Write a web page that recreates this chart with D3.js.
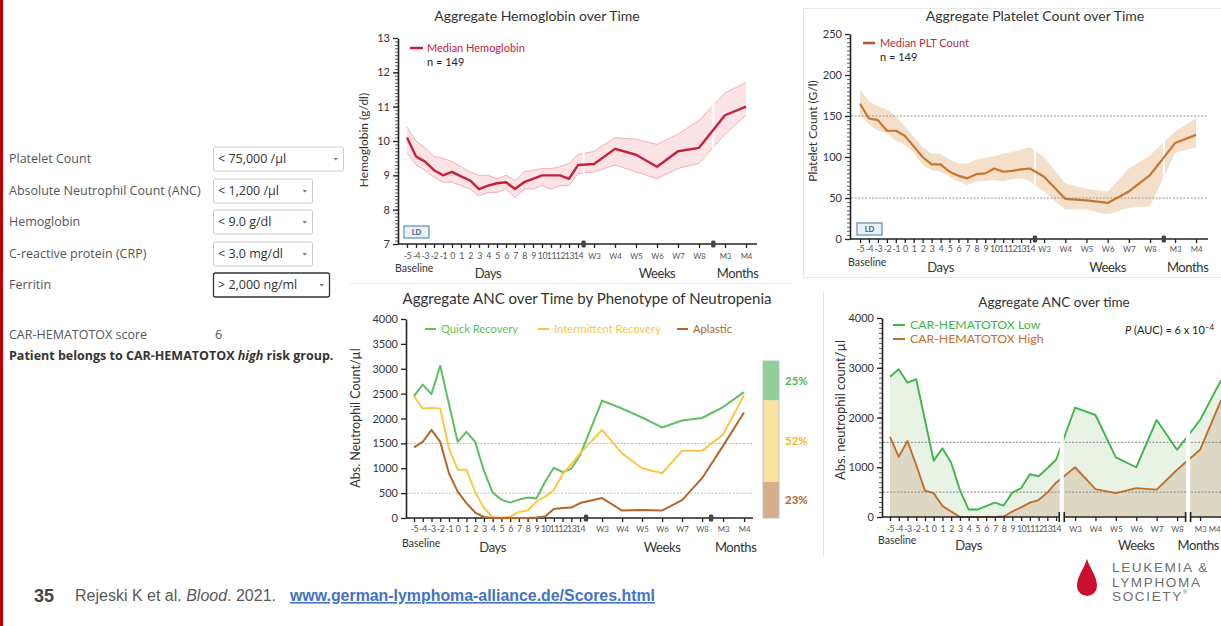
<!DOCTYPE html>
<html>
<head>
<meta charset="utf-8">
<script src="https://d3js.org/d3.v7.min.js"></script>
<style>
body { margin: 0; background: #fff; overflow: hidden; }
svg { display: block; }
</style>
</head>
<body>
<div id="chart"></div>
<script>
// x categories shared by all four panels
var xLabels = ["-5","-4","-3","-2","-1","0","1","2","3","4","5","6","7","8","9","10","11","12","13","14",
	"W3","W4","W5","W6","W7","W8","M3","M4"];

// hemoglobin (g/dl)
var hbMedian = [10.1, 9.55, 9.4, 9.15, 9.0, 9.1, 8.97, 8.85, 8.6, 8.7, 8.77, 8.8, 8.6, 8.8, 8.9, 9.0, 9.0, 9.0, 8.9, 9.3,
	9.33, 9.77, 9.6, 9.25, 9.7, 9.8, 10.75, 11.0];
var hbUpper = [10.4, 10.0, 9.8, 9.55, 9.5, 9.4, 9.25, 9.1, 9.0, 9.0, 8.9, 9.0, 8.85, 9.1, 9.15, 9.2, 9.2, 9.25, 9.35, 9.6,
	9.7, 10.1, 10.05, 9.9, 10.2, 10.6, 11.4, 11.7];
var hbLower = [9.65, 9.3, 9.15, 8.95, 8.8, 8.8, 8.7, 8.6, 8.4, 8.5, 8.5, 8.6, 8.35, 8.6, 8.6, 8.7, 8.6, 8.7, 8.7, 9.05,
	9.1, 9.3, 9.1, 8.9, 9.2, 9.35, 10.2, 10.75];

// platelet count (G/l)
var pltMedian = [165, 147, 145, 132, 132, 126, 113, 100, 91, 91, 82, 77, 74, 79, 80, 86, 82, 83, 85, 86,
	76, 49, 47, 44, 58, 78, 117, 127];
var pltUpper = [182, 168, 162, 158, 150, 137, 125, 112, 104, 104, 97, 92, 92, 97, 99, 101, 104, 106, 109, 112,
	100, 68, 61, 58, 86, 102, 131, 147];
var pltLower = [151, 140, 132, 129, 120, 115, 106, 90, 84, 82, 76, 70, 66, 70, 71, 72, 70, 73, 74, 70,
	58, 36, 36, 30, 38, 40, 105, 112];
var pltRefs = [150, 50];

// ANC by phenotype (/µl)
var phenoNames = ["Quick Recovery", "Intermittent Recovery", "Aplastic"];
var ancQuick = [2450, 2680, 2490, 3060, 2290, 1530, 1730, 1530, 950, 510, 370, 310, 370, 410, 390, 730, 1010, 920, 990, 1260,
	2360, 2200, 2020, 1820, 1960, 2010, 2230, 2530];
var ancIntermittent = [2450, 2200, 2210, 2200, 1400, 970, 970, 520, 200, 20, 0, 30, 120, 150, 330, 430, 560, 880, 1080, 1300,
	1770, 1300, 1000, 900, 1350, 1350, 1680, 2470];
var ancAplastic = [1420, 1530, 1770, 1530, 900, 530, 300, 110, 20, 0, 0, 0, 0, 0, 10, 30, 180, 200, 210, 300,
	400, 150, 160, 150, 360, 800, 1450, 2120];
var phenoShares = [25, 52, 23];
var ancRefs = [1500, 500];

// ANC by CAR-HEMATOTOX group (/µl)
var riskNames = ["CAR-HEMATOTOX Low", "CAR-HEMATOTOX High"];
var toxLow = [2820, 2970, 2700, 2770, 1950, 1130, 1380, 1090, 540, 150, 150, 220, 290, 230, 490, 580, 860, 820, 980, 1150,
	2200, 2050, 1200, 1000, 1950, 1350, 1950, 2750];
var toxHigh = [1610, 1210, 1530, 1045, 530, 480, 220, 110, 0, 0, 0, 0, 0, 10, 110, 195, 290, 340, 490, 690,
	1000, 560, 480, 580, 550, 950, 1350, 2350];

// score calculator form
var formLabels = ["Platelet Count", "Absolute Neutrophil Count (ANC)", "Hemoglobin", "C-reactive protein (CRP)", "Ferritin"];
var formValues = ["< 75,000 /µl", "< 1,200 /µl", "< 9.0 g/dl", "< 3.0 mg/dl", "> 2,000 ng/ml"];
var activeField = 4;
var scoreValue = 6;

var FONT = "Lato, 'Noto Sans', sans-serif";
var WIDTH = 1221, HEIGHT = 626;
var svg;

// layouts (pixels)
var hbLayout = { x0: 407, day: 9.0, gapW: 16, week: 21, gapM: 26, month: 21,
	left: 398, right: 757, top: 38, bottom: 244, breaks: [19.35, 25.55] };
var pltLayout = { x0: 860, day: 8.95, gapW: 14, week: 21.2, gapM: 25, month: 21,
	left: 850, right: 1208, top: 34, bottom: 239, breaks: [19.35, 25.55] };
var ancLayout = { x0: 414, day: 8.74, gapW: 22, week: 20, gapM: 21, month: 21,
	left: 406, right: 753, top: 319, bottom: 518, breaks: [19.27, 25.43] };
var toxLayout = { x0: 890, day: 8.74, gapW: 19, week: 20.4, gapM: 23, month: 21,
	left: 882, right: 1230, top: 318, bottom: 517, breaks: [19.3, 25.48] };
var formLayout = { rowY: [159, 191, 222, 254, 285], boxW: [130, 99, 99, 99, 116] };

function onLoad() {
	svgContainer();
	drawForm();
	drawHemoglobin();
	drawPlatelets();
	drawPhenotype();
	drawHematotox();
	drawFooter();
}

function svgContainer() {
	svg = d3.select("#chart").append("svg")
		.attr("width", WIDTH)
		.attr("height", HEIGHT);
	svg.append("rect").attr("width", WIDTH).attr("height", HEIGHT).attr("fill", "#fff");
	svg.append("rect").attr("x", 0).attr("y", 0).attr("width", 3).attr("height", HEIGHT).attr("fill", "#c00000");

	// faint panel frames of the pasted figures
	svg.append("line").attr("x1", 350).attr("x2", 792).attr("y1", 283.5).attr("y2", 283.5).attr("stroke", "#ececec");
	svg.append("rect").attr("x", 803.5).attr("y", 8.5).attr("width", 425).attr("height", 269)
		.attr("fill", "none").attr("stroke", "#e8e8e8");
	svg.append("line").attr("x1", 823.5).attr("x2", 823.5).attr("y1", 292).attr("y2", 556).attr("stroke", "#e2e2e2");
}

function makeX(p) {
	var d14 = p.x0 + 19 * p.day,
		w3 = d14 + p.gapW,
		w8 = w3 + 5 * p.week,
		m3 = w8 + p.gapM;
	return d3.scaleLinear().domain([0, 19, 20, 25, 26, 27]).range([p.x0, d14, w3, w8, m3, m3 + p.month]);
}

function drawXAxis(p, x, breakStyle, lab) {
	var g = svg.append("g")
		.attr("transform", "translate(0," + p.bottom + ")")
		.call(d3.axisBottom(x)
			.tickValues(d3.range(xLabels.length))
			.tickFormat(function(i) { return xLabels[i]; })
			.tickSize(4)
			.tickPadding(3));
	g.select(".domain").remove();
	g.attr("font-family", FONT).attr("color", "#333");
	g.selectAll(".tick line").attr("stroke", "#222").attr("stroke-width", 1.3);
	g.selectAll(".tick text")
		.attr("fill", "#555")
		.attr("font-size", function(i) { return i < 20 ? 8.8 : 7.8; })
		.attr("letter-spacing", function(i) { return i < 20 ? -0.4 : 0; })
		.attr("y", lab.tick)
		.attr("dy", "0.35em")
		// keep a label at the slide edge inside the picture
		.attr("text-anchor", function(i) { return x(i) + 5 > WIDTH ? "end" : "middle"; })
		.attr("x", function(i) { return x(i) + 5 > WIDTH ? WIDTH - 1 - x(i) : 0; });
	g.append("line").attr("x1", p.left).attr("x2", p.right)
		.attr("stroke", "#222").attr("stroke-width", 1.6);

	p.breaks.forEach(function(b) {
		var bx = x(b);
		if (breakStyle === "block") {
			g.append("rect").attr("x", bx - 2.2).attr("y", -3.5).attr("width", 4.4).attr("height", 7)
				.attr("rx", 1.5).attr("fill", "#444");
		} else {
			g.append("rect").attr("x", bx - 2).attr("y", -2).attr("width", 4).attr("height", 4).attr("fill", "#fff");
			g.append("line").attr("x1", bx - 2.5).attr("x2", bx - 2.5).attr("y1", -5).attr("y2", 5)
				.attr("stroke", "#222").attr("stroke-width", 1.6);
			g.append("line").attr("x1", bx + 2.5).attr("x2", bx + 2.5).attr("y1", -5).attr("y2", 5)
				.attr("stroke", "#222").attr("stroke-width", 1.6);
		}
	});

	g.append("text").attr("x", x(0) - 12).attr("y", lab.base).attr("dy", "0.35em")
		.attr("fill", "#333").attr("font-size", 10.5).attr("text-anchor", "start").text("Baseline");
	var groups = [["Days", 9], ["Weeks", 23], ["Months", 26.6]];
	groups.forEach(function(gr) {
		var t = g.append("text").attr("x", x(gr[1])).attr("y", lab.group).attr("dy", "0.35em")
			.attr("fill", "#333").attr("font-size", 13).attr("letter-spacing", -0.4)
			.attr("text-anchor", "middle").text(gr[0]);
		if (x(gr[1]) + 22 > WIDTH) t.attr("x", WIDTH - 2).attr("text-anchor", "end");
	});
}

function drawYAxis(p, y, major, minor) {
	if (minor) {
		var m = svg.append("g")
			.attr("transform", "translate(" + p.left + ",0)")
			.call(d3.axisLeft(y).tickValues(minor).tickSize(3).tickFormat(""));
		m.select(".domain").remove();
		m.selectAll(".tick line").attr("stroke", "#333").attr("stroke-width", 0.8);
	}
	var g = svg.append("g")
		.attr("transform", "translate(" + p.left + ",0)")
		.call(d3.axisLeft(y).tickValues(major).tickSize(5).tickSizeOuter(0).tickPadding(3).tickFormat(d3.format("d")));
	g.attr("font-family", FONT).attr("font-size", 11);
	g.select(".domain").attr("stroke", "#222").attr("stroke-width", 1.6);
	g.selectAll(".tick line").attr("stroke", "#222").attr("stroke-width", 1.3);
	g.selectAll(".tick text").attr("fill", "#333");
}

function drawYLabel(cx, cy, label, size) {
	svg.append("text")
		.attr("transform", "translate(" + cx + "," + cy + ") rotate(-90)")
		.attr("text-anchor", "middle")
		.attr("dy", "0.35em")
		.attr("font-family", FONT)
		.attr("font-size", size)
		.attr("fill", "#333")
		.text(label);
}

function drawTitle(cx, y, label, size) {
	svg.append("text").attr("x", cx).attr("y", y)
		.attr("text-anchor", "middle")
		.attr("font-family", FONT)
		.attr("font-size", size)
		.attr("fill", "#333")
		.text(label);
}

function drawGaps(p, x, width) {
	p.breaks.forEach(function(b) {
		svg.append("rect").attr("x", x(b) - width / 2).attr("y", p.top)
			.attr("width", width).attr("height", p.bottom - p.top - 1)
			.attr("fill", "#fff");
	});
}

function drawRefLines(p, y, values, color, width) {
	values.forEach(function(v) {
		svg.append("line").attr("x1", p.left + 1).attr("x2", p.right)
			.attr("y1", y(v)).attr("y2", y(v))
			.attr("stroke", color).attr("stroke-width", width)
			.attr("stroke-dasharray", "2,1.5");
	});
}

function drawLD(px, py) {
	svg.append("rect").attr("x", px).attr("y", py).attr("width", 25).attr("height", 12)
		.attr("fill", "#eaf2f8").attr("stroke", "#5a8db5").attr("stroke-width", 1.2);
	svg.append("text").attr("x", px + 12.5).attr("y", py + 6).attr("dy", "0.35em")
		.attr("text-anchor", "middle").attr("font-family", FONT).attr("font-weight", "bold")
		.attr("font-size", 7.5).attr("fill", "#2d5f8a").text("LD");
}

function seriesLine(x, y) {
	return d3.line().x(function(d, i) { return x(i); }).y(function(d) { return y(d); });
}

function drawHemoglobin() {
	var p = hbLayout, x = makeX(p);
	var y = d3.scaleLinear().domain([7, 13]).range([p.bottom, p.top]);
	var idx = d3.range(xLabels.length);

	drawTitle(537, 21, "Aggregate Hemoglobin over Time", 14);

	svg.append("path").datum(idx)
		.attr("d", d3.area().x(function(i) { return x(i); })
			.y0(function(i) { return y(hbLower[i]); })
			.y1(function(i) { return y(hbUpper[i]); }))
		.attr("fill", "#fbe3e6");
	svg.append("path").datum(hbUpper).attr("d", seriesLine(x, y)).attr("fill", "none").attr("stroke", "#f5b0b8").attr("stroke-width", 1);
	svg.append("path").datum(hbLower).attr("d", seriesLine(x, y)).attr("fill", "none").attr("stroke", "#f5b0b8").attr("stroke-width", 1);
	drawGaps(p, x, 2);

	drawYAxis(p, y, d3.range(7, 14), d3.range(70, 131).map(function(v) { return v / 10; }));
	drawXAxis(p, x, "block", { tick: 12, base: 24, group: 29 });
	drawYLabel(364, 140, "Hemoglobin (g/dl)", 12);

	svg.append("path").datum(hbMedian).attr("d", seriesLine(x, y))
		.attr("fill", "none").attr("stroke", "#c8203a").attr("stroke-width", 2.4).attr("stroke-linejoin", "round");

	svg.append("line").attr("x1", 410).attr("x2", 423).attr("y1", 48).attr("y2", 48)
		.attr("stroke", "#c8203a").attr("stroke-width", 2.5);
	svg.append("text").attr("x", 427).attr("y", 48).attr("dy", "0.35em").attr("font-family", FONT)
		.attr("font-size", 11).attr("fill", "#c8203a").text("Median Hemoglobin");
	svg.append("text").attr("x", 427).attr("y", 62).attr("dy", "0.35em").attr("font-family", FONT)
		.attr("font-size", 11).attr("fill", "#222").text("n = 149");
	drawLD(404, 226);
}

function drawPlatelets() {
	var p = pltLayout, x = makeX(p);
	var y = d3.scaleLinear().domain([0, 250]).range([p.bottom, p.top]);
	var idx = d3.range(xLabels.length);

	drawTitle(1035, 21, "Aggregate Platelet Count over Time", 14);

	svg.append("path").datum(idx)
		.attr("d", d3.area().x(function(i) { return x(i); })
			.y0(function(i) { return y(pltLower[i]); })
			.y1(function(i) { return y(pltUpper[i]); }))
		.attr("fill", "#f3dfca");
	drawGaps(p, x, 2);
	drawRefLines(p, y, pltRefs, "#999", 1);

	drawYAxis(p, y, d3.range(0, 251, 50), d3.range(0, 251, 5));
	drawXAxis(p, x, "block", { tick: 10, base: 23, group: 28 });
	drawYLabel(813, 131, "Platelet Count (G/l)", 12);

	svg.append("path").datum(pltMedian).attr("d", seriesLine(x, y))
		.attr("fill", "none").attr("stroke", "#c8762c").attr("stroke-width", 2.2).attr("stroke-linejoin", "round");

	svg.append("line").attr("x1", 863).attr("x2", 875).attr("y1", 43).attr("y2", 43)
		.attr("stroke", "#b5562e").attr("stroke-width", 2.5);
	svg.append("text").attr("x", 880).attr("y", 43).attr("dy", "0.35em").attr("font-family", FONT)
		.attr("font-size", 11).attr("fill", "#a83242").text("Median PLT Count");
	svg.append("text").attr("x", 880).attr("y", 57).attr("dy", "0.35em").attr("font-family", FONT)
		.attr("font-size", 11).attr("fill", "#222").text("n = 149");
	drawLD(857, 223);
}

function drawPhenotype() {
	var p = ancLayout, x = makeX(p);
	var y = d3.scaleLinear().domain([0, 4000]).range([p.bottom, p.top]);
	var colors = ["#5dbf5f", "#fcc744", "#b5652a"];
	var series = [ancQuick, ancIntermittent, ancAplastic];

	drawTitle(587, 304, "Aggregate ANC over Time by Phenotype of Neutropenia", 15);
	drawRefLines(p, y, ancRefs, "#bbb", 1);
	drawYAxis(p, y, d3.range(0, 4001, 500), null);
	drawXAxis(p, x, "block", { tick: 11, base: 25, group: 29 });
	drawYLabel(356, 418, "Abs. Neutrophil Count/µl", 12.5);

	series.forEach(function(s, k) {
		svg.append("path").datum(s).attr("d", seriesLine(x, y))
			.attr("fill", "none").attr("stroke", colors[k]).attr("stroke-width", 2).attr("stroke-linejoin", "round");
	});

	var legX = [425, 538, 677];
	phenoNames.forEach(function(n, k) {
		svg.append("line").attr("x1", legX[k]).attr("x2", legX[k] + 11).attr("y1", 329).attr("y2", 329)
			.attr("stroke", colors[k]).attr("stroke-width", 2);
		svg.append("text").attr("x", legX[k] + 16).attr("y", 329).attr("dy", "0.35em")
			.attr("font-family", FONT).attr("font-size", 11.2).attr("fill", colors[k]).text(n);
	});

	// stacked share bar, bottom = aplastic
	var s = d3.scaleLinear().domain([0, 100]).range([p.bottom, 361]);
	var fills = ["#93cf96", "#f9e3a0", "#d8ae8a"];
	var labCol = ["#4cb84c", "#f5b52a", "#b5652a"];
	var cum = 0;
	for (var k = phenoShares.length - 1; k >= 0; k--) {
		var lo = cum, hi = cum + phenoShares[k];
		svg.append("rect").attr("x", 763).attr("y", s(hi)).attr("width", 16).attr("height", s(lo) - s(hi))
			.attr("fill", fills[k]);
		svg.append("text").attr("x", 785).attr("y", s((lo + hi) / 2)).attr("dy", "0.35em")
			.attr("font-family", FONT).attr("font-weight", "bold").attr("font-size", 11.5)
			.attr("fill", labCol[k]).text(phenoShares[k] + "%");
		cum = hi;
	}
	svg.append("rect").attr("x", 763).attr("y", s(100)).attr("width", 16).attr("height", s(0) - s(100))
		.attr("fill", "none").attr("stroke", "#b3c3cf").attr("stroke-width", 1);
}

function drawHematotox() {
	var p = toxLayout, x = makeX(p);
	var y = d3.scaleLinear().domain([0, 4000]).range([p.bottom, p.top]);
	var colors = ["#3fb54b", "#c0702e"];

	drawTitle(1054, 307, "Aggregate ANC over time", 13.5);

	var area = function(s) {
		return d3.area().x(function(d, i) { return x(i); }).y0(y(0)).y1(function(d) { return y(d); })(s);
	};
	svg.append("path").attr("d", area(toxLow)).attr("fill", "#e8f3e6");
	svg.append("path").attr("d", area(toxHigh)).attr("fill", "#ddd8c4");

	drawRefLines(p, y, ancRefs, "#999", 1.4);

	svg.append("path").datum(toxLow).attr("d", seriesLine(x, y))
		.attr("fill", "none").attr("stroke", colors[0]).attr("stroke-width", 1.9).attr("stroke-linejoin", "round");
	svg.append("path").datum(toxHigh).attr("d", seriesLine(x, y))
		.attr("fill", "none").attr("stroke", colors[1]).attr("stroke-width", 1.9).attr("stroke-linejoin", "round");
	drawGaps(p, x, 4);

	drawYAxis(p, y, d3.range(0, 4001, 1000), d3.range(0, 4001, 100));
	drawXAxis(p, x, "double", { tick: 12, base: 23, group: 28 });
	drawYLabel(840, 410, "Abs. neutrophil count/µl", 13);

	riskNames.forEach(function(n, k) {
		var ly = 325 + k * 14;
		svg.append("line").attr("x1", 893).attr("x2", 905).attr("y1", ly).attr("y2", ly)
			.attr("stroke", colors[k]).attr("stroke-width", 2);
		svg.append("text").attr("x", 910).attr("y", ly).attr("dy", "0.35em")
			.attr("font-family", FONT).attr("font-size", 12.3).attr("fill", colors[k]).text(n);
	});
	var pt = svg.append("text").attr("x", 1125).attr("y", 330).attr("dy", "0.35em")
		.attr("font-family", FONT).attr("font-size", 11).attr("fill", "#222");
	pt.append("tspan").attr("font-style", "italic").text("P");
	pt.append("tspan").text(" (AUC) = 6 x 10");
	pt.append("tspan").attr("font-size", 8).attr("dy", "-0.5em").text("−4");
}

function drawForm() {
	var g = svg.append("g").attr("font-family", "'Open Sans', sans-serif").attr("font-size", 12.5);
	formLabels.forEach(function(lab, i) {
		var cy = formLayout.rowY[i], w = formLayout.boxW[i], active = i === activeField;
		g.append("text").attr("x", 9).attr("y", cy).attr("dy", "0.35em").attr("fill", "#555").text(lab);
		g.append("rect").attr("x", 213.5).attr("y", cy - 12).attr("width", w).attr("height", 24).attr("rx", 2)
			.attr("fill", "#fff").attr("stroke", active ? "#333" : "#ccc").attr("stroke-width", active ? 1.3 : 1);
		g.append("text").attr("x", 218).attr("y", cy).attr("dy", "0.35em").attr("fill", "#333").text(formValues[i]);
		g.append("path").attr("d", "M" + (213.5 + w - 10) + "," + (cy - 1) + "l4.5,0l-2.25,2.5z").attr("fill", "#777");
	});
	g.append("text").attr("x", 9).attr("y", 335).attr("dy", "0.35em").attr("fill", "#555").text("CAR-HEMATOTOX score");
	g.append("text").attr("x", 215).attr("y", 335).attr("dy", "0.35em").attr("fill", "#555").text(scoreValue);
	var t = g.append("text").attr("x", 9).attr("y", 356).attr("dy", "0.35em").attr("fill", "#333")
		.attr("font-weight", "bold").attr("font-size", 12.5);
	t.append("tspan").text("Patient belongs to CAR-HEMATOTOX ");
	t.append("tspan").attr("font-style", "italic").text("high");
	t.append("tspan").text(" risk group.");
}

function drawFooter() {
	var f = "'Liberation Sans', Arial, sans-serif";
	svg.append("text").attr("x", 34).attr("y", 602).attr("font-family", "'Liberation Sans Narrow', " + f)
		.attr("font-weight", "bold").attr("font-size", 18).attr("fill", "#444").text("35");
	var c = svg.append("text").attr("x", 75).attr("y", 601).attr("font-family", f)
		.attr("font-size", 16).attr("fill", "#595959");
	c.append("tspan").text("Rejeski K et al. ");
	c.append("tspan").attr("font-style", "italic").text("Blood");
	c.append("tspan").text(". 2021.");
	svg.append("text").attr("x", 290).attr("y", 601).attr("font-family", f)
		.attr("font-size", 15.9).attr("font-weight", "bold").attr("fill", "#4472c4")
		.attr("text-decoration", "underline").text("www.german-lymphoma-alliance.de/Scores.html");

	// LLS logo
	svg.append("path")
		.attr("d", "M1087,559 C1090,569 1097,576 1097,586 A10,10 0 0 1 1077,586 C1077,576 1084,569 1087,559 Z")
		.attr("fill", "#c8102e");
	var words = ["LEUKEMIA &", "LYMPHOMA", "SOCIETY"];
	words.forEach(function(w, i) {
		var tx = svg.append("text").attr("x", 1112).attr("y", 572 + i * 14.5)
			.attr("font-family", "'Liberation Sans', Arial, sans-serif").attr("font-size", 13.6)
			.attr("letter-spacing", 1.6).attr("fill", "#707070").text(w);
		if (i === 2) tx.append("tspan").attr("font-size", 6).attr("dy", -7).text("®");
	});
}

onLoad();
</script>
</body>
</html>
